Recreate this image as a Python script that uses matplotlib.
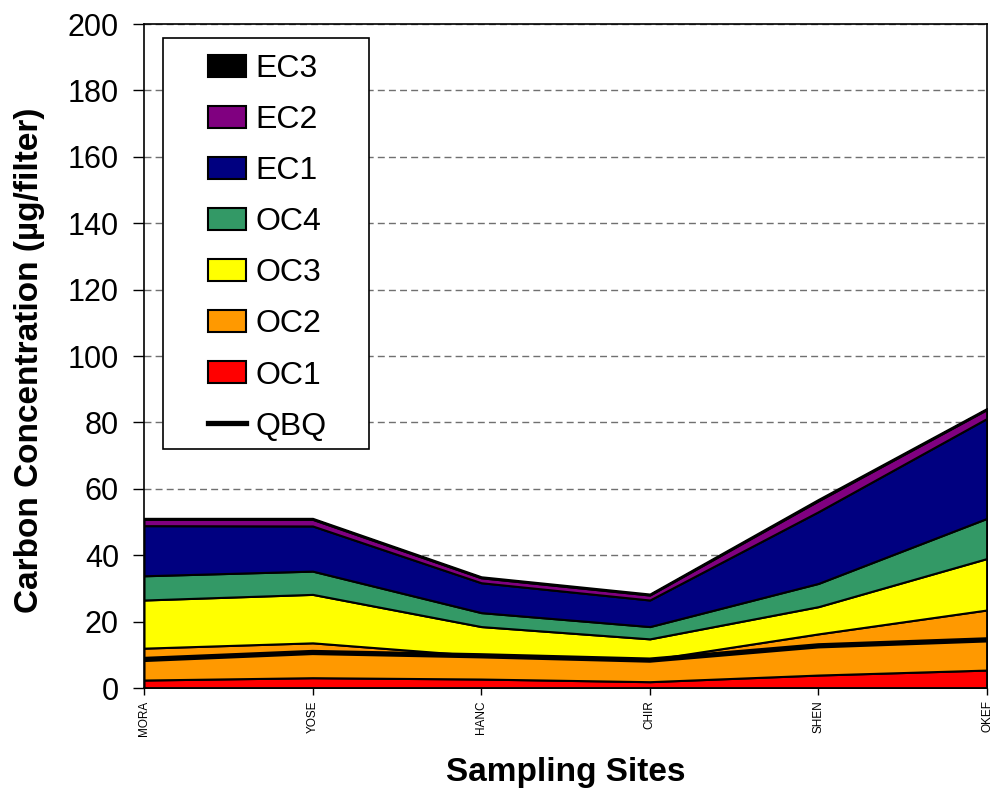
import matplotlib
matplotlib.use("Agg")
import matplotlib.pyplot as plt
from matplotlib.lines import Line2D
from matplotlib.patches import Rectangle

plt.rcParams['font.family'] = ['Liberation Sans', 'DejaVu Sans']

sites = ["MORA", "YOSE", "HANC", "CHIR", "SHEN", "OKEF"]
oc1 = [2.4, 3.1, 2.7, 1.9, 3.9, 5.4]
oc2 = [9.6, 10.5, 7.0, 6.6, 12.4, 18.1]
oc3 = [14.5, 14.6, 8.8, 6.3, 8.2, 15.5]
oc4 = [7.3, 7.0, 4.2, 3.7, 7.0, 12.1]
ec1 = [15.1, 13.6, 9.0, 8.0, 21.6, 30.1]
ec2 = [1.9, 2.0, 1.5, 1.5, 3.3, 2.7]
ec3 = [0.3, 0.3, 0.3, 0.3, 0.4, 0.3]
qbq = [8.6, 10.7, 9.7, 8.4, 12.7, 14.5]

layer_names = ["OC1", "OC2", "OC3", "OC4", "EC1", "EC2", "EC3"]
layer_colors = ["#FF0000", "#FF9900", "#FFFF00", "#339966", "#000080", "#800080", "#000000"]

fig = plt.figure(figsize=(9.93, 7.92), dpi=100)
ax = fig.add_axes([144/993, 1-688/792, (987-144)/993, (688-24)/792])

x = list(range(len(sites)))
polys = ax.stackplot(x, oc1, oc2, oc3, oc4, ec1, ec2, ec3,
                     colors=layer_colors, labels=layer_names,
                     edgecolor="black", linewidth=1.5, zorder=2)
qline, = ax.plot(x, qbq, color="black", lw=3.8, zorder=3, solid_capstyle="butt")

ax.set_xlim(0, len(sites) - 1)
ax.set_ylim(0, 200)
ax.set_yticks(range(0, 201, 20))
ax.set_xticks(x)
ax.set_xticklabels(sites, rotation=90, fontsize=8.5)
ax.tick_params(axis='y', labelsize=22, direction='out', length=8, width=1, pad=10)
ax.tick_params(axis='x', direction='out', length=5, width=1, pad=4)
ax.yaxis.grid(True, linestyle=(0, (5, 3)), color="#707070", lw=1)
ax.set_axisbelow(True)
for s in ax.spines.values():
    s.set_linewidth(1.2)

ax.set_ylabel("Carbon Concentration (\u00b5g/filter)", fontsize=24, fontweight="bold")
ax.set_xlabel("Sampling Sites", fontsize=24, fontweight="bold")
ax.yaxis.set_label_coords(-(144-30)/843, (688-360)/664)
ax.xaxis.set_label_coords(0.5, -(772-688)/664)
ax.yaxis.label.set_verticalalignment("center")
ax.xaxis.label.set_verticalalignment("center")

# legend frame
frame = Rectangle(((163-144)/843, (688-449)/664), (369-163)/843, (449-38)/664,
                  transform=ax.transAxes, facecolor="white", edgecolor="black",
                  lw=1.2, zorder=4.5)
ax.add_patch(frame)

handles = list(reversed(polys)) + [Line2D([], [], color="black", lw=3.8)]
labels = list(reversed(layer_names)) + ["QBQ"]
leg = ax.legend(handles, labels, loc="upper left",
                bbox_to_anchor=((208-144)/843, (688-54)/664),
                frameon=False, fontsize=23, borderpad=0, borderaxespad=0,
                handlelength=1.19, handleheight=0.69, handletextpad=0.3,
                labelspacing=0.66)
leg.set_zorder(5)

fig.savefig("out.png", dpi=100)
